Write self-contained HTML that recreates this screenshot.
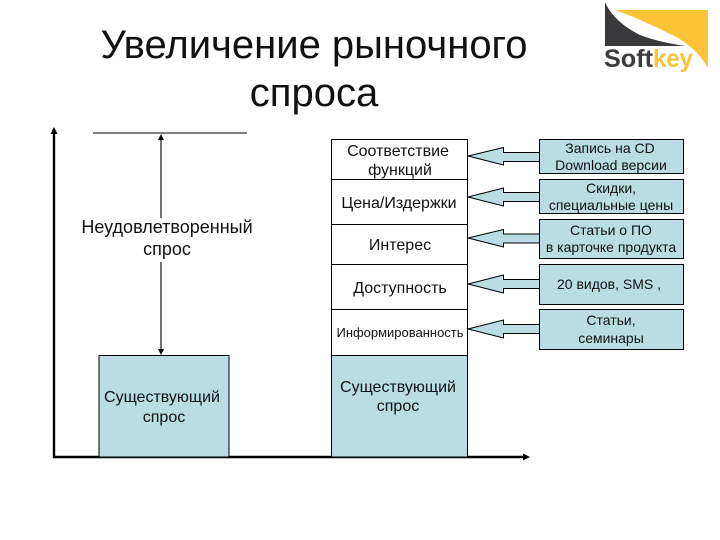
<!DOCTYPE html>
<html><head><meta charset="utf-8"><style>
html,body{margin:0;padding:0;background:#fff}
svg{display:block}
text{font-family:"Liberation Sans","DejaVu Sans",sans-serif;fill:#111;text-anchor:middle}
.m{font-size:16px}.s{font-size:14px}
</style></head><body>
<svg width="720" height="540" viewBox="0 0 720 540" xmlns="http://www.w3.org/2000/svg">
<rect width="720" height="540" fill="#fff"/>
<text x="314" y="58" font-size="40">Увеличение рыночного</text>
<text x="314" y="106" font-size="40">спроса</text>
<!-- logo -->
<path d="M605 2C610 14 622 26 640 35C656 41 672 44 685 46H605Z" fill="#3a3a3c"/>
<path d="M615 10H708V68C700 54 688 42 668 33C650 24 632 16 615 10Z" fill="#fbc335"/>
<text x="604" y="67" font-size="25" font-weight="bold" style="fill:#3c3c3e;text-anchor:start" textLength="49" lengthAdjust="spacingAndGlyphs">Soft</text>
<text x="653" y="67" font-size="25" font-weight="bold" style="fill:#fbc335;text-anchor:start" textLength="40" lengthAdjust="spacingAndGlyphs">key</text>
<!-- axes -->
<path d="M54 133V457H525" fill="none" stroke="#000" stroke-width="2.4"/>
<polygon points="54,127 50.5,134 57.5,134" fill="#000"/>
<polygon points="530,457 523,453.5 523,460.5" fill="#000"/>
<path d="M93 133H247" stroke="#000" stroke-width="1.1"/>
<path d="M161 139V218M161 262V349" stroke="#000" stroke-width="1.1"/>
<polygon points="161,134 158,140 164,140" fill="#000"/>
<polygon points="161,355 158,349 164,349" fill="#000"/>
<text x="167" y="233" font-size="18">Неудовлетворенный</text>
<text x="167" y="255" font-size="18">спрос</text>
<rect x="99" y="355.5" width="130" height="101.5" fill="#b9dde2" stroke="#000" stroke-width="1"/>
<text class="m" x="162" y="402">Существующий</text>
<text class="m" x="164" y="422">спрос</text>
<!-- center column -->
<rect x="331.5" y="139.5" width="136" height="216" fill="#fff" stroke="#000"/>
<rect x="331.5" y="355.5" width="136" height="101.5" fill="#b9dde2" stroke="#000"/>
<path d="M331.5 179.5H467.5M331.5 224.5H467.5M331.5 264.5H467.5M331.5 309.5H467.5" stroke="#000" fill="none"/>
<text class="m" x="398" y="156">Соответствие</text>
<text class="m" x="400" y="175">функций</text>
<text class="m" x="399" y="208">Цена/Издержки</text>
<text class="m" x="400" y="250">Интерес</text>
<text class="m" x="400" y="293">Доступность</text>
<text x="400" y="337" font-size="13" textLength="127" lengthAdjust="spacingAndGlyphs">Информированность</text>
<text class="m" x="398" y="392">Существующий</text>
<text class="m" x="398" y="411">спрос</text>
<!-- right boxes -->
<g fill="#b9dde2" stroke="#000">
<rect x="539.5" y="139.5" width="144" height="34"/>
<rect x="539.5" y="179.5" width="144" height="34"/>
<rect x="539.5" y="219.5" width="144" height="39"/>
<rect x="539.5" y="264.5" width="144" height="40"/>
<rect x="539.5" y="309.5" width="144" height="40"/>
<!-- arrows -->
<polygon points="468,156 503.5,147.5 503.5,152.5 539.5,152.5 539.5,161.5 503.5,161.5 503.5,165"/>
<polygon points="468,197 503.5,188 503.5,192.5 539.5,192.5 539.5,201.5 503.5,201.5 503.5,206"/>
<polygon points="468,238 503.5,229.5 503.5,234 539.5,234 539.5,243 503.5,243 503.5,247"/>
<polygon points="468,284 503.5,275 503.5,279.5 539.5,279.5 539.5,288.5 503.5,288.5 503.5,293"/>
<polygon points="468,329 503.5,320 503.5,324.5 539.5,324.5 539.5,333.5 503.5,333.5 503.5,338"/>
</g>
<g>
<text class="s" x="610" y="153">Запись на CD</text>
<text class="s" x="611" y="170">Download версии</text>
<text class="s" x="611" y="193">Скидки,</text>
<text class="s" x="611" y="210">специальные цены</text>
<text class="s" x="611" y="235">Статьи о ПО</text>
<text class="s" x="611" y="252">в карточке продукта</text>
<text class="s" x="609" y="289">20 видов, SMS ,</text>
<text class="s" x="611" y="325">Статьи,</text>
<text class="s" x="611" y="343">семинары</text>
</g>
</svg>
</body></html>
